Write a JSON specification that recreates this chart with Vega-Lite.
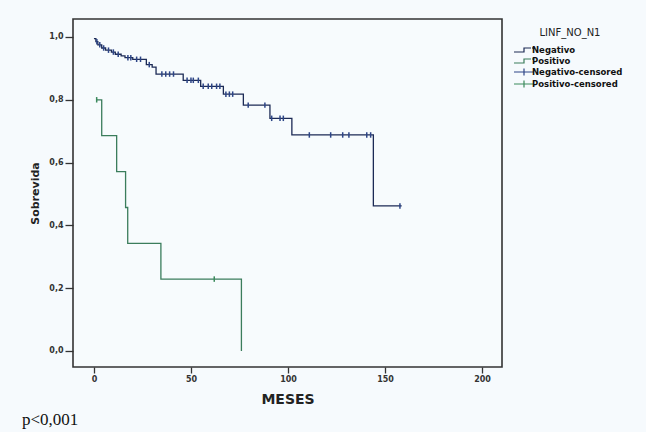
{
  "$schema": "https://vega.github.io/schema/vega-lite/v6.json",
  "autosize": {"type": "none"},
  "padding": {"left": 73, "top": 19, "right": 144, "bottom": 65},
  "width": 429,
  "height": 348,
  "background": "#f6fafd",
  "title": {"text": "p<0,001", "orient": "bottom", "anchor": "start", "frame": "group", "dx": -51, "offset": 6, "font": "Liberation Serif", "fontSize": 17, "fontWeight": "normal", "color": "#111"},
  "config": {
    "view": {"stroke": "#333", "strokeWidth": 1.6, "fill": "#f7fbfd"},
    "axis": {"grid": false, "domain": false, "labelFont": "DejaVu Sans", "labelFontWeight": "bold", "labelFontSize": 8, "labelColor": "#333", "tickColor": "#333", "tickWidth": 1.3, "titleFont": "DejaVu Sans", "titleFontWeight": "bold", "titleColor": "#222"}
  },
  "datasets": {
    "curves": [
      {"serie": "Negativo", "t": 0, "s": 0.995},
      {"serie": "Negativo", "t": 1, "s": 0.985},
      {"serie": "Negativo", "t": 2, "s": 0.975},
      {"serie": "Negativo", "t": 4, "s": 0.965},
      {"serie": "Negativo", "t": 6, "s": 0.958},
      {"serie": "Negativo", "t": 9, "s": 0.952},
      {"serie": "Negativo", "t": 11, "s": 0.945},
      {"serie": "Negativo", "t": 14, "s": 0.94},
      {"serie": "Negativo", "t": 16, "s": 0.934},
      {"serie": "Negativo", "t": 20, "s": 0.929},
      {"serie": "Negativo", "t": 27, "s": 0.912},
      {"serie": "Negativo", "t": 30, "s": 0.904},
      {"serie": "Negativo", "t": 32, "s": 0.882},
      {"serie": "Negativo", "t": 46, "s": 0.862},
      {"serie": "Negativo", "t": 55, "s": 0.843},
      {"serie": "Negativo", "t": 66.7, "s": 0.818},
      {"serie": "Negativo", "t": 77, "s": 0.783},
      {"serie": "Negativo", "t": 90.7, "s": 0.741},
      {"serie": "Negativo", "t": 102, "s": 0.688},
      {"serie": "Negativo", "t": 144, "s": 0.462},
      {"serie": "Negativo", "t": 158.6, "s": 0.462},
      {"serie": "Positivo", "t": 1.4, "s": 0.8},
      {"serie": "Positivo", "t": 4, "s": 0.686},
      {"serie": "Positivo", "t": 11.7, "s": 0.571},
      {"serie": "Positivo", "t": 16.3, "s": 0.457},
      {"serie": "Positivo", "t": 17.4, "s": 0.343},
      {"serie": "Positivo", "t": 34.5, "s": 0.229},
      {"serie": "Positivo", "t": 76, "s": 0.0}
    ],
    "censored": [
      {"serie": "Negativo-censored", "t": 1.5, "s": 0.985},
      {"serie": "Negativo-censored", "t": 3, "s": 0.975},
      {"serie": "Negativo-censored", "t": 5, "s": 0.965},
      {"serie": "Negativo-censored", "t": 7.5, "s": 0.958},
      {"serie": "Negativo-censored", "t": 10, "s": 0.952},
      {"serie": "Negativo-censored", "t": 12.5, "s": 0.945},
      {"serie": "Negativo-censored", "t": 17.5, "s": 0.934},
      {"serie": "Negativo-censored", "t": 19, "s": 0.934},
      {"serie": "Negativo-censored", "t": 22, "s": 0.929},
      {"serie": "Negativo-censored", "t": 24, "s": 0.929},
      {"serie": "Negativo-censored", "t": 28.5, "s": 0.912},
      {"serie": "Negativo-censored", "t": 35, "s": 0.882},
      {"serie": "Negativo-censored", "t": 37, "s": 0.882},
      {"serie": "Negativo-censored", "t": 39, "s": 0.882},
      {"serie": "Negativo-censored", "t": 41, "s": 0.882},
      {"serie": "Negativo-censored", "t": 48, "s": 0.862},
      {"serie": "Negativo-censored", "t": 50, "s": 0.862},
      {"serie": "Negativo-censored", "t": 51.2, "s": 0.862},
      {"serie": "Negativo-censored", "t": 53.8, "s": 0.862},
      {"serie": "Negativo-censored", "t": 56.3, "s": 0.843},
      {"serie": "Negativo-censored", "t": 58.9, "s": 0.843},
      {"serie": "Negativo-censored", "t": 60.7, "s": 0.843},
      {"serie": "Negativo-censored", "t": 63.2, "s": 0.843},
      {"serie": "Negativo-censored", "t": 64.9, "s": 0.843},
      {"serie": "Negativo-censored", "t": 68, "s": 0.818},
      {"serie": "Negativo-censored", "t": 69.8, "s": 0.818},
      {"serie": "Negativo-censored", "t": 71.5, "s": 0.818},
      {"serie": "Negativo-censored", "t": 79.5, "s": 0.783},
      {"serie": "Negativo-censored", "t": 88.1, "s": 0.783},
      {"serie": "Negativo-censored", "t": 91.6, "s": 0.741},
      {"serie": "Negativo-censored", "t": 95.9, "s": 0.741},
      {"serie": "Negativo-censored", "t": 97.6, "s": 0.741},
      {"serie": "Negativo-censored", "t": 111, "s": 0.688},
      {"serie": "Negativo-censored", "t": 122, "s": 0.688},
      {"serie": "Negativo-censored", "t": 128.2, "s": 0.688},
      {"serie": "Negativo-censored", "t": 131.4, "s": 0.688},
      {"serie": "Negativo-censored", "t": 140.6, "s": 0.688},
      {"serie": "Negativo-censored", "t": 142.6, "s": 0.688},
      {"serie": "Negativo-censored", "t": 157.7, "s": 0.462},
      {"serie": "Positivo-censored", "t": 1.4, "s": 0.8},
      {"serie": "Positivo-censored", "t": 62, "s": 0.229}
    ]
  },
  "encoding": {
    "x": {"field": "t", "type": "quantitative", "scale": {"domain": [-10.8, 210.3], "nice": false, "zero": false},
      "axis": {"values": [0, 50, 100, 150, 200], "title": "MESES", "titleFontSize": 14, "titlePadding": 9, "tickSize": 6, "labelPadding": 2}},
    "y": {"field": "s", "type": "quantitative", "scale": {"domain": [-0.051, 1.0573], "nice": false, "zero": false},
      "axis": {"values": [0, 0.2, 0.4, 0.6, 0.8, 1.0], "labelExpr": "replace(format(datum.value, '.1f'), '.', ',')", "title": "Sobrevida", "titleFontSize": 11, "titlePadding": 8, "tickSize": 8, "labelPadding": 2}},
    "color": {"field": "serie", "type": "nominal",
      "scale": {"domain": ["Negativo", "Positivo", "Negativo-censored", "Positivo-censored"], "range": ["#1c2a55", "#3b7d5c", "#2d4587", "#3b8a5c"]},
      "legend": {"orient": "none", "legendX": 445, "legendY": 9, "title": "LINF_NO_N1", "titleFont": "DejaVu Sans", "titleFontSize": 10, "titleFontWeight": "normal", "titleColor": "#222", "titleAnchor": "middle", "titlePadding": 6,
        "labelFont": "DejaVu Sans", "labelFontSize": 8.5, "labelFontWeight": "bold", "labelColor": "#111", "labelOffset": 2,
        "symbolSize": 100, "symbolStrokeWidth": 1.2, "rowPadding": -1,
        "encode": {"symbols": {"update": {
          "shape": {"signal": "indexof(datum.value, 'censored') >= 0 ? 'M-2,0H2M0,-0.7V0.7' : 'M-2,0.4H0V-0.4H1.4M1.8,-0.6V-0.2'"},
          "fill": {"value": "transparent"}}}}}}
  },
  "layer": [
    {"data": {"name": "curves"}, "mark": {"type": "line", "interpolate": "step-after", "strokeWidth": 1.3}},
    {"data": {"name": "censored"}, "mark": {"type": "point", "shape": "M0,-1V1", "size": 30, "filled": false, "strokeWidth": 1.5, "opacity": 1}}
  ]
}
